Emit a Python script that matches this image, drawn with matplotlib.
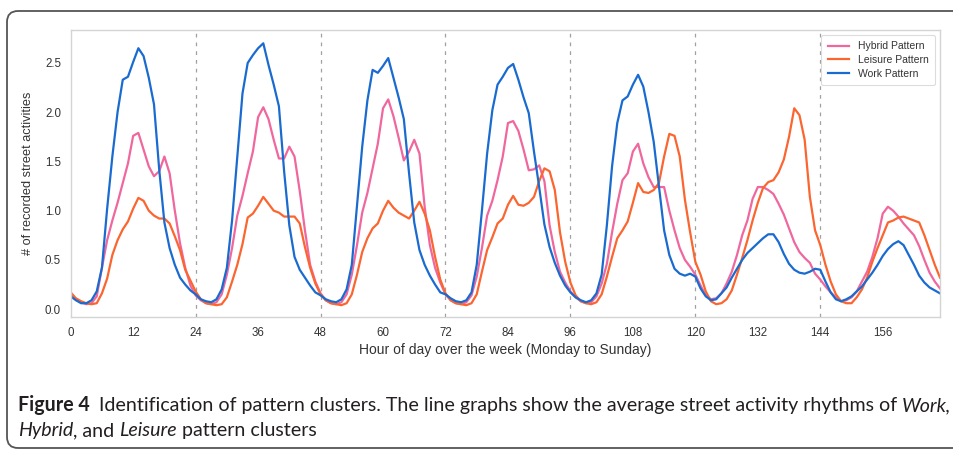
import matplotlib.pyplot as plt
from matplotlib.patches import FancyBboxPatch
from matplotlib.transforms import IdentityTransform
import numpy as np

# hour of the week, 0 = Monday 00:00
hours = np.arange(168)

hybrid = [
    0.15, 0.10, 0.07, 0.05, 0.06, 0.13, 0.42, 0.70, 0.90, 1.08, 1.28, 1.48, 1.76, 1.79, 1.62, 1.45, 1.35, 1.40, 1.55, 1.38, 1.00, 0.67, 0.42, 0.24,
    0.14, 0.09, 0.06, 0.05, 0.07, 0.15, 0.35, 0.62, 0.95, 1.15, 1.38, 1.60, 1.95, 2.05, 1.93, 1.72, 1.53, 1.53, 1.65, 1.55, 1.20, 0.80, 0.45, 0.28,
    0.16, 0.09, 0.06, 0.05, 0.07, 0.15, 0.35, 0.65, 0.98, 1.18, 1.43, 1.68, 2.04, 2.13, 1.96, 1.74, 1.51, 1.60, 1.72, 1.58, 1.04, 0.65, 0.42, 0.27,
    0.15, 0.09, 0.06, 0.05, 0.07, 0.14, 0.33, 0.62, 0.95, 1.10, 1.31, 1.55, 1.89, 1.91, 1.81, 1.62, 1.41, 1.42, 1.46, 1.30, 0.85, 0.58, 0.38, 0.27,
    0.18, 0.12, 0.08, 0.06, 0.07, 0.13, 0.26, 0.46, 0.78, 1.07, 1.31, 1.38, 1.60, 1.68, 1.48, 1.34, 1.24, 1.24, 1.24, 1.00, 0.80, 0.62, 0.50, 0.43,
    0.35, 0.24, 0.14, 0.10, 0.11, 0.16, 0.26, 0.38, 0.55, 0.75, 0.90, 1.12, 1.24, 1.24, 1.21, 1.17, 1.07, 0.96, 0.82, 0.68, 0.58, 0.52, 0.47, 0.36,
    0.30, 0.23, 0.17, 0.12, 0.08, 0.09, 0.12, 0.18, 0.28, 0.38, 0.53, 0.72, 0.97, 1.04, 1.00, 0.94, 0.87, 0.81, 0.75, 0.64, 0.50, 0.37, 0.28, 0.21,
]

leisure = [
    0.17, 0.11, 0.08, 0.06, 0.05, 0.06, 0.16, 0.31, 0.55, 0.70, 0.81, 0.89, 1.02, 1.13, 1.10, 1.00, 0.95, 0.92, 0.92, 0.87, 0.74, 0.60, 0.40, 0.29,
    0.18, 0.10, 0.06, 0.05, 0.04, 0.05, 0.12, 0.28, 0.45, 0.66, 0.93, 0.97, 1.05, 1.14, 1.07, 1.00, 0.98, 0.94, 0.94, 0.94, 0.87, 0.63, 0.42, 0.26,
    0.15, 0.09, 0.06, 0.05, 0.04, 0.06, 0.15, 0.35, 0.58, 0.72, 0.82, 0.87, 1.00, 1.10, 1.03, 0.98, 0.95, 0.92, 1.00, 1.09, 0.97, 0.80, 0.53, 0.30,
    0.16, 0.09, 0.06, 0.05, 0.04, 0.06, 0.15, 0.38, 0.60, 0.73, 0.87, 0.92, 1.06, 1.15, 1.06, 1.05, 1.08, 1.14, 1.30, 1.43, 1.40, 1.21, 0.78, 0.48,
    0.27, 0.14, 0.08, 0.06, 0.05, 0.07, 0.15, 0.33, 0.53, 0.72, 0.80, 0.89, 1.08, 1.28, 1.19, 1.18, 1.21, 1.28, 1.55, 1.78, 1.76, 1.55, 1.11, 0.78,
    0.48, 0.35, 0.18, 0.08, 0.05, 0.06, 0.10, 0.19, 0.35, 0.52, 0.70, 0.90, 1.08, 1.23, 1.29, 1.31, 1.39, 1.52, 1.75, 2.04, 1.97, 1.72, 1.14, 0.80,
    0.65, 0.45, 0.28, 0.15, 0.08, 0.06, 0.06, 0.12, 0.20, 0.32, 0.48, 0.62, 0.75, 0.88, 0.90, 0.93, 0.94, 0.92, 0.90, 0.88, 0.75, 0.60, 0.45, 0.32,
]

work = [
    0.13, 0.09, 0.06, 0.06, 0.09, 0.18, 0.42, 1.02, 1.55, 2.00, 2.33, 2.36, 2.51, 2.65, 2.57, 2.35, 2.08, 1.42, 0.88, 0.62, 0.45, 0.32, 0.25, 0.19,
    0.15, 0.10, 0.08, 0.07, 0.10, 0.20, 0.42, 0.90, 1.55, 2.19, 2.50, 2.58, 2.65, 2.70, 2.48, 2.28, 2.06, 1.40, 0.85, 0.53, 0.40, 0.32, 0.24, 0.17,
    0.14, 0.10, 0.08, 0.07, 0.10, 0.20, 0.45, 1.05, 1.65, 2.12, 2.43, 2.40, 2.47, 2.55, 2.35, 2.15, 1.93, 1.38, 0.88, 0.60, 0.45, 0.34, 0.25, 0.17,
    0.15, 0.11, 0.08, 0.07, 0.09, 0.17, 0.45, 1.00, 1.58, 2.02, 2.28, 2.36, 2.45, 2.49, 2.33, 2.15, 1.99, 1.60, 1.24, 0.86, 0.63, 0.47, 0.34, 0.24,
    0.17, 0.12, 0.09, 0.07, 0.09, 0.16, 0.35, 0.85, 1.45, 1.89, 2.12, 2.16, 2.28, 2.38, 2.26, 2.00, 1.70, 1.25, 0.80, 0.55, 0.41, 0.36, 0.34, 0.36,
    0.33, 0.21, 0.13, 0.09, 0.10, 0.16, 0.22, 0.32, 0.41, 0.50, 0.57, 0.62, 0.67, 0.72, 0.76, 0.76, 0.68, 0.56, 0.46, 0.40, 0.37, 0.36, 0.38, 0.41,
    0.40, 0.28, 0.17, 0.10, 0.08, 0.10, 0.13, 0.18, 0.23, 0.30, 0.37, 0.45, 0.54, 0.61, 0.66, 0.69, 0.65, 0.55, 0.45, 0.34, 0.27, 0.22, 0.19, 0.16,
]

day_breaks = [24, 48, 72, 96, 120, 144]
xticks = list(range(0, 168, 12))
yticks = [0.0, 0.5, 1.0, 1.5, 2.0, 2.5]

W, H = 954, 451
fig = plt.figure(figsize=(W / 100, H / 100), dpi=100)
fig.patch.set_facecolor('white')

# rounded frame around figure + caption (pixel coords, runs off the right edge)
frame = FancyBboxPatch((7, 3), 1000, 437,
                       boxstyle='round,pad=0,rounding_size=11',
                       transform=IdentityTransform(), fill=False,
                       edgecolor='#555555', linewidth=1.3)
fig.add_artist(frame)

ax = fig.add_axes([70.7 / W, 1 - 317 / H, (940 - 70.7) / W, (317 - 30) / H])
ax.plot(hours, hybrid, color='#f0679e', lw=1.6, label='Hybrid Pattern')
ax.plot(hours, leisure, color='#fb6530', lw=1.6, label='Leisure Pattern')
ax.plot(hours, work, color='#1a6bd0', lw=1.6, label='Work Pattern')
for d in day_breaks:
    ax.axvline(d, color='#a0a0a0', ls=(0, (3, 4)), lw=0.9, zorder=0)

ax.set_xlim(0, 167)
ax.set_ylim(-0.08, 2.835)
ax.set_xticks(xticks)
ax.set_yticks(yticks)
ax.set_yticklabels([f'{v:.1f}' for v in yticks])
ax.tick_params(length=0, labelsize=8.3, labelcolor='#333333', pad=7)
for tl in ax.get_xticklabels() + ax.get_yticklabels():
    tl.set_family('Liberation Sans')
for s in ax.spines.values():
    s.set_color('#d4d4d4')
    s.set_linewidth(1.0)
ax.set_xlabel('Hour of day over the week (Monday to Sunday)', fontsize=10,
              family='Liberation Sans', color='#333333', labelpad=3)
ax.set_ylabel('# of recorded street activities', fontsize=9.2,
              family='Liberation Sans', color='#333333', labelpad=8)

leg = ax.legend(loc='upper right', frameon=True, fancybox=True,
                borderpad=0.6, handlelength=2.1, labelspacing=0.35,
                prop={'family': 'Liberation Sans', 'size': 7.5})
leg.get_frame().set_edgecolor('#d4d4d4')
leg.get_frame().set_linewidth(0.8)
for t in leg.get_texts():
    t.set_color('#333333')

# caption, with mixed bold / italic runs
cap_font = 'Lato'
line1 = [('Figure 4', 'normal', 'bold', 1.8),
         ('Identification of pattern clusters. The line graphs show the average street activity rhythms of', 'normal', 'normal', 1.0),
         ('Work,', 'italic', 'normal', 0)]
line2 = [('Hybrid', 'italic', 'normal', 0),
         (', and', 'normal', 'normal', 1.0),
         ('Leisure', 'italic', 'normal', 1.0),
         ('pattern clusters', 'normal', 'normal', 0)]


def draw_line(runs, x0, y, size):
    r = fig.canvas.get_renderer()
    probe = fig.text(0, 0, 'a a', fontsize=size, family=cap_font)
    probe2 = fig.text(0, 0, 'aa', fontsize=size, family=cap_font)
    space = probe.get_window_extent(r).width - probe2.get_window_extent(r).width
    probe.remove()
    probe2.remove()
    x = x0
    arts = []
    for s, style, weight, gap in runs:
        t = fig.text(x / W, 1 - y / H, s, fontsize=size, family=cap_font,
                     style=style, weight=weight, color='#231f20', va='baseline')
        arts.append(t)
        x += t.get_window_extent(r).width + gap * space
    return arts, x - x0


fig.canvas.draw()
arts, width = draw_line(line1, 18, 411, 12)
for a in arts:
    a.remove()
size = 12 * 927 / width
draw_line(line1, 18, 411, size)
draw_line(line2, 18, 436, size)

fig.savefig('out.png', dpi=100)
